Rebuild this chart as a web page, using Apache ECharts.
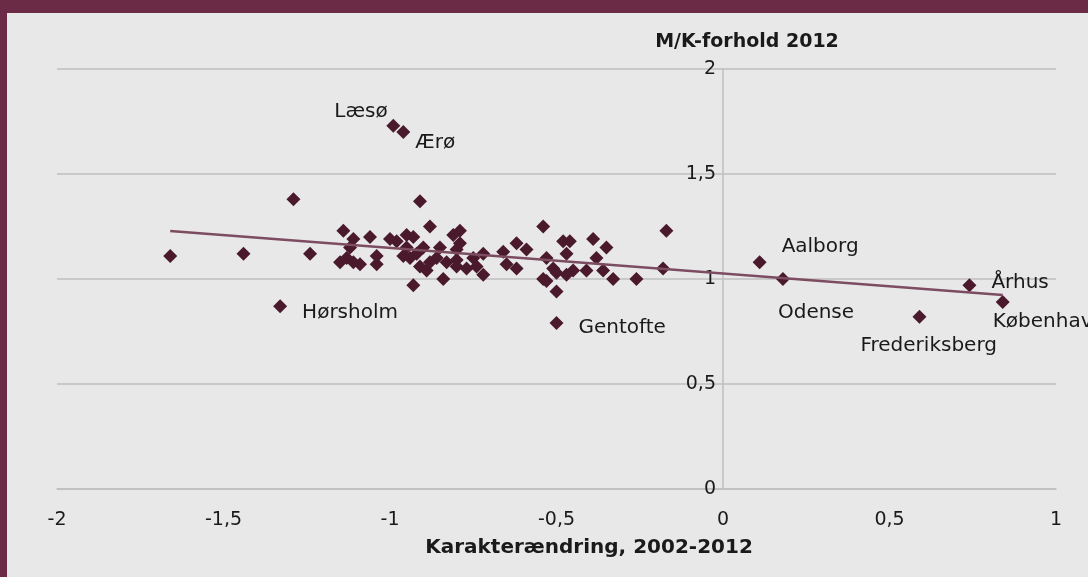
<!DOCTYPE html>
<html><head><meta charset="utf-8">
<script src="https://cdn.jsdelivr.net/npm/echarts@6.0.0/dist/echarts.min.js"></script>
<style>
html,body{margin:0;padding:0;background:#e8e8e8;overflow:hidden;}
#chart{position:absolute;left:0;top:0;width:1088px;height:577px;}
#frameTop{position:absolute;left:0;top:0;width:1088px;height:13px;background:#6b2b47;}
#frameLeft{position:absolute;left:0;top:0;width:7px;height:577px;background:#6b2b47;}
</style></head><body>
<div id="chart"></div><div id="frameTop"></div><div id="frameLeft"></div>
<script>
// Karakterændring 2002-2012 (x) vs M/K-forhold 2012 (y), one point per kommune
const xValues = [-1.66,-1.44,-1.33,-1.29,-1.24,-0.99,-0.96,-0.91,-0.50,0.11,0.18,0.59,0.74,0.84,
  -1.14,-1.11,-1.15,-1.13,-1.11,-1.09,-1.06,-1.04,-1.04,-1.00,-0.98,-0.95,-0.93,-0.95,-0.88,-0.93,
  -0.92,-0.90,-0.91,-0.89,-0.86,-0.85,-0.84,-0.83,-0.81,-0.79,-0.80,-0.79,-0.80,-0.77,-0.80,-0.75,
  -0.72,-0.72,-0.74,-0.66,-0.65,-0.62,-0.59,-0.62,-0.54,-0.53,-0.54,-0.53,-0.50,-0.51,-0.50,-0.48,
  -0.46,-0.47,-0.47,-0.45,-0.41,-0.39,-0.38,-0.35,-0.36,-0.33,-0.26,-0.17,-0.18,-0.96,-0.94,-0.88,-1.12];
const yValues = [1.11,1.12,0.87,1.38,1.12,1.73,1.70,1.37,0.79,1.08,1.00,0.82,0.97,0.89,
  1.23,1.19,1.08,1.10,1.08,1.07,1.20,1.11,1.07,1.19,1.18,1.21,1.20,1.15,1.25,0.97,
  1.12,1.15,1.06,1.04,1.10,1.15,1.00,1.08,1.21,1.23,1.14,1.17,1.06,1.05,1.09,1.10,
  1.12,1.02,1.06,1.13,1.07,1.17,1.14,1.05,1.25,1.10,1.00,0.99,0.94,1.05,1.03,1.18,
  1.18,1.12,1.02,1.04,1.04,1.19,1.10,1.15,1.04,1.00,1.00,1.23,1.05,1.11,1.10,1.08,1.15];
const pointNames = ["","","Hørsholm","","","Læsø","Ærø","","Gentofte","Aalborg","Odense","Frederiksberg","Århus","København"];
const xAxisTitle = "Karakterændring, 2002-2012";
const yAxisTitle = "M/K-forhold 2012";
const xMin = -2, xMax = 1, xStep = 0.5;
const yMin = 0, yMax = 2, yStep = 0.5;

// label placement (style only): offset of the label's left-middle from the marker centre
const labelOffsets = {"Læsø":[-59,-14],"Ærø":[12,11],"Hørsholm":[22,6],"Gentofte":[22,5],
  "Aalborg":[22,-15],"Odense":[-5,34],"Frederiksberg":[-59,29],"Århus":[22,-3],"København":[-10,20]};

const FONT = "DejaVu Sans";
const points = xValues.map((x, i) => {
  const name = pointNames[i] || "";
  const item = {value: [x, yValues[i]], name: name};
  if (name) {
    item.label = {show: true, position: 'inside', align: 'left', verticalAlign: 'middle',
      offset: labelOffsets[name], formatter: '{b}', color: '#1a1a1a', fontFamily: FONT, fontSize: 20};
  }
  return item;
});

// linear trend line (least squares through the data)
const n = xValues.length;
const mx = xValues.reduce((a, b) => a + b, 0) / n;
const my = yValues.reduce((a, b) => a + b, 0) / n;
let sxy = 0, sxx = 0;
for (let i = 0; i < n; i++) { sxy += (xValues[i] - mx) * (yValues[i] - my); sxx += (xValues[i] - mx) ** 2; }
const slope = sxy / sxx, icpt = my - slope * mx;
const xmin = Math.min(...xValues), xmax = Math.max(...xValues);
const trend = [[xmin, icpt + slope * xmin], [xmax, icpt + slope * xmax]];

const gridLeft = 57, gridRight = 32;
const plotW = 1088 - gridLeft - gridRight;
// place the y axis (with its labels) at x = 0, as in the original
const yAxisShift = -plotW * (0 - xMin) / (xMax - xMin);

const comma = v => String(v).replace('.', ',');
const chart = echarts.init(document.getElementById('chart'), null, {renderer: 'canvas'});
chart.setOption({
  backgroundColor: '#e8e8e8',
  animation: false,
  textStyle: {fontFamily: FONT},
  grid: {left: gridLeft, right: gridRight, top: 69, bottom: 88, containLabel: false},
  title: [
    {text: yAxisTitle, left: 742, top: 28, textAlign: 'center',
     textStyle: {fontFamily: FONT, fontWeight: 'bold', fontSize: 19, color: '#1a1a1a'}},
    {text: xAxisTitle, left: 584, top: 533, textAlign: 'center',
     textStyle: {fontFamily: FONT, fontWeight: 'bold', fontSize: 20, color: '#1a1a1a'}}
  ],
  xAxis: {type: 'value', min: xMin, max: xMax, interval: xStep,
    axisLine: {show: true, onZero: false, lineStyle: {color: '#bfbfbf', width: 1.5}},
    axisTick: {show: false}, splitLine: {show: false},
    axisLabel: {formatter: comma, margin: 22, color: '#1a1a1a', fontSize: 19, fontFamily: FONT}},
  yAxis: {type: 'value', min: yMin, max: yMax, interval: yStep, position: 'left', offset: yAxisShift,
    axisLine: {show: true, onZero: false, lineStyle: {color: '#bfbfbf', width: 1.5}},
    axisTick: {show: false},
    splitLine: {show: true, lineStyle: {color: '#bfbfbf', width: 1.5}},
    axisLabel: {formatter: comma, margin: 7, color: '#1a1a1a', fontSize: 19, fontFamily: FONT}},
  series: [
    {type: 'scatter', data: points, symbol: 'diamond', symbolSize: 14,
     itemStyle: {color: '#4a1a2c', opacity: 1}, z: 2},
    {type: 'line', data: trend, showSymbol: false, symbol: 'none', silent: true,
     lineStyle: {color: '#7c4c61', width: 2.5}, z: 3}
  ]
});
</script></body></html>
